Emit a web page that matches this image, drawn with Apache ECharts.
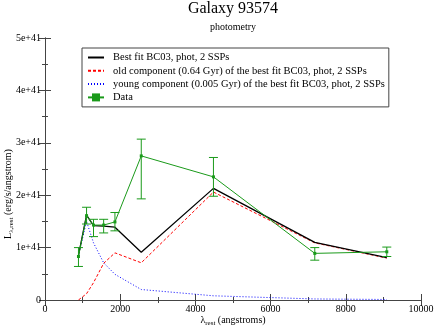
<!DOCTYPE html>
<html>
<head>
<meta charset="utf-8">
<script src="https://cdn.jsdelivr.net/npm/echarts@6/dist/echarts.min.js"></script>
<style>
  html, body { margin: 0; padding: 0; background: #fff; }
  #chart { width: 436px; height: 329px; }
</style>
</head>
<body>
<div id="chart"></div>
<script>
// wavelengths (angstroms) of the photometric bands
const wavelength = [890, 1105, 1290, 1560, 1860, 2560, 4480, 7175, 9090]
// luminosities in units of 1e41 erg/s/angstrom
const dataLum = [0.83, 1.61, 1.43, 1.43, 1.49, 2.75, 2.35, 0.89, 0.92]
const dataLow = [0.64, 1.45, 1.21, 1.28, 1.32, 1.93, 1.98, 0.76, 0.83]
const dataHigh = [1.0, 1.77, 1.54, 1.54, 1.67, 3.07, 2.72, 1.0, 1.01]
const bestFit = [0.85, 1.62, 1.42, 1.41, 1.39, 0.91, 2.13, 1.1, 0.81]
const oldComp = [0.0, 0.12, 0.33, 0.7, 0.9, 0.71, 2.06, 1.09, 0.8]
const youngComp = [0.85, 1.5, 1.09, 0.71, 0.49, 0.2, 0.08, 0.02, 0.01]
const yTicks = ['0', '1e+41', '2e+41', '3e+41', '4e+41', '5e+41']

const font = 'Liberation Serif'
const green = '#1a9a1a'

function pairs(ys) {
  return wavelength.map((x, i) => [x, ys[i]])
}

const chart = echarts.init(document.getElementById('chart'), null, { renderer: 'canvas' })

const frameAxis = {
  axisLine: { show: true, lineStyle: { color: '#444', width: 1 } },
  axisTick: { show: true, inside: true, length: 6, lineStyle: { color: '#444' } },
  minorTick: { show: true, splitNumber: 2, length: 3, lineStyle: { color: '#444' } },
  splitLine: { show: false }
}

const noSymbol = { opacity: 0 }

chart.setOption({
  animation: false,
  textStyle: { fontFamily: font },
  title: {
    text: 'Galaxy 93574',
    subtext: 'photometry',
    left: 233,
    textAlign: 'center',
    top: 1,
    padding: 0,
    itemGap: 5,
    textStyle: { fontFamily: font, fontSize: 16, fontWeight: 'normal', color: '#000' },
    subtextStyle: { fontFamily: font, fontSize: 10, color: '#000' }
  },
  grid: { left: 45, right: 15, top: 38, bottom: 29, outerBoundsMode: 'none' },
  legend: {
    data: [
      { name: 'Best fit BC03, phot, 2 SSPs', itemStyle: noSymbol },
      { name: 'old component (0.64 Gyr) of the best fit BC03, phot, 2 SSPs', itemStyle: noSymbol },
      { name: 'young component (0.005 Gyr) of the best fit BC03, phot, 2 SSPs', itemStyle: noSymbol },
      { name: 'Data' }
    ],
    orient: 'vertical',
    left: 82,
    top: 48,
    itemWidth: 16,
    itemHeight: 10,
    itemGap: 2.3,
    padding: [4, 4, 4, 5],
    borderColor: '#444',
    borderWidth: 1,
    backgroundColor: '#fff',
    textStyle: { fontFamily: font, fontSize: 10.5, color: '#000', padding: [0, 0, 0, 4] }
  },
  xAxis: [
    Object.assign({
      type: 'value',
      min: 0,
      max: 10000,
      interval: 2000,
      name: '{m|λ}{s|rest}{m| (angstroms)}',
      nameLocation: 'middle',
      nameGap: 14,
      nameMoveOverlap: false,
      nameTextStyle: {
        rich: {
          m: { fontFamily: font, fontSize: 10, color: '#000' },
          s: { fontFamily: font, fontSize: 7, color: '#000', padding: [6, 0, 0, 0] }
        }
      },
      axisLabel: { fontFamily: font, fontSize: 10, color: '#000', margin: 4, formatter: (v) => String(v) }
    }, frameAxis),
    Object.assign({
      type: 'value',
      position: 'top',
      min: 0,
      max: 10000,
      interval: 2000,
      axisLabel: { show: false }
    }, frameAxis)
  ],
  yAxis: [
    Object.assign({
      type: 'value',
      min: 0,
      max: 5,
      interval: 1,
      name: '{m|L}{s|λ,rest}{m| (erg/s/angstrom)}',
      nameLocation: 'middle',
      nameGap: 30,
      nameMoveOverlap: false,
      nameTextStyle: {
        padding: [0, 50, 0, 0],
        rich: {
          m: { fontFamily: font, fontSize: 10, color: '#000' },
          s: { fontFamily: font, fontSize: 7, color: '#000', padding: [6, 0, 0, 0] }
        }
      },
      axisLabel: {
        fontFamily: font, fontSize: 10, color: '#000', margin: 4,
        formatter: (v) => yTicks[Math.round(v)]
      }
    }, frameAxis),
    Object.assign({
      type: 'value',
      position: 'right',
      min: 0,
      max: 5,
      interval: 1,
      axisLabel: { show: false }
    }, frameAxis)
  ],
  series: [
    {
      name: 'Best fit BC03, phot, 2 SSPs',
      type: 'line',
      data: pairs(bestFit),
      symbol: 'none',
      lineStyle: { color: '#000', width: 1.3 },
      itemStyle: { color: '#000' },
      z: 4
    },
    {
      name: 'old component (0.64 Gyr) of the best fit BC03, phot, 2 SSPs',
      type: 'line',
      data: pairs(oldComp),
      symbol: 'none',
      lineStyle: { color: '#ff0000', width: 1, type: [3, 2] },
      itemStyle: { color: '#ff0000' },
      z: 3
    },
    {
      name: 'young component (0.005 Gyr) of the best fit BC03, phot, 2 SSPs',
      type: 'line',
      data: pairs(youngComp),
      symbol: 'none',
      lineStyle: { color: '#0000ff', width: 1, type: [1, 2] },
      itemStyle: { color: '#0000ff' },
      z: 3
    },
    {
      name: 'Data',
      type: 'line',
      data: pairs(dataLum),
      symbol: 'rect',
      symbolSize: 3,
      lineStyle: { color: green, width: 1 },
      itemStyle: { color: green },
      z: 5
    },
    {
      name: 'Data errors',
      type: 'custom',
      data: wavelength.map((x, i) => [x, dataLow[i], dataHigh[i]]),
      renderItem: (params, api) => {
        const lo = api.coord([api.value(0), api.value(1)])
        const hi = api.coord([api.value(0), api.value(2)])
        const cap = 4.5
        const style = { stroke: green, lineWidth: 1 }
        return {
          type: 'group',
          children: [
            { type: 'line', shape: { x1: lo[0], y1: lo[1], x2: hi[0], y2: hi[1] }, style },
            { type: 'line', shape: { x1: lo[0] - cap, y1: lo[1], x2: lo[0] + cap, y2: lo[1] }, style },
            { type: 'line', shape: { x1: hi[0] - cap, y1: hi[1], x2: hi[0] + cap, y2: hi[1] }, style }
          ]
        }
      },
      z: 5
    }
  ]
})
</script>
</body>
</html>
